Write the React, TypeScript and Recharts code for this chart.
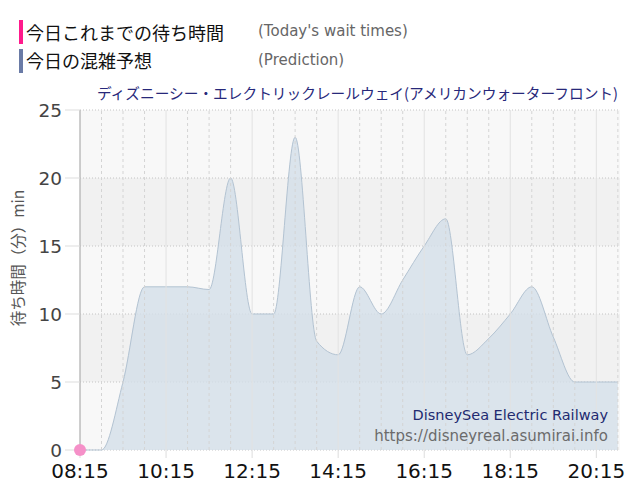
import React from "react";
import {
  ComposedChart,
  Area,
  Line,
  XAxis,
  YAxis,
  CartesianGrid,
  ReferenceLine,
} from "recharts";

// ---- data ----
const slotTimes = [
  "08:15", "08:45", "09:15", "09:45", "10:15", "10:45", "11:15", "11:45",
  "12:15", "12:45", "13:15", "13:45", "14:15", "14:45", "15:15", "15:45",
  "16:15", "16:45", "17:15", "17:45", "18:15", "18:45", "19:15", "19:45",
  "20:15", "20:45",
];
const predictedWaits = [
  0, 0, 5, 12, 12, 12, 11.8, 20, 10, 10, 23, 8, 7, 12, 10, 12.5, 15, 17, 7,
  8.2, 10, 12, 8.3, 5, 5, 5,
];
const actualTimes = ["08:15"];
const actualWaits = [0];
const xTickLabels = ["08:15", "10:15", "12:15", "14:15", "16:15", "18:15", "20:15"];
const yTicks = [0, 5, 10, 15, 20, 25];
const axisStart = "08:15";
const axisEnd = "20:48";

const toMin = (s: string) => {
  const [h, m] = s.split(":").map(Number);
  return h * 60 + m;
};
const fmt = (v: number) => {
  const h = Math.floor(v / 60);
  const m = v % 60;
  return `${String(h).padStart(2, "0")}:${String(m).padStart(2, "0")}`;
};

const chartData = slotTimes.map((t, i) => {
  const ai = actualTimes.indexOf(t);
  return {
    t: toMin(t),
    pred: predictedWaits[i],
    actual: ai >= 0 ? actualWaits[ai] : null,
  };
});

const xTicks = xTickLabels.map(toMin);
const gridTimes = slotTimes.map(toMin).filter((m) => !xTicks.includes(m));

const latin = '"DejaVu Sans", Verdana, sans-serif';
const jp = '"Noto Sans CJK JP", "DejaVu Sans", sans-serif';

export default function App() {
  return (
    <div
      style={{
        position: "absolute",
        left: 0,
        top: 0,
        width: 640,
        height: 500,
        background: "#fff",
        overflow: "hidden",
      }}
    >
      {/* legend */}
      <div style={{ position: "absolute", left: 19, top: 20, width: 4, height: 24, background: "#ff1a8c" }} />
      <div style={{ position: "absolute", left: 26, top: 20, height: 24, lineHeight: "24px", fontFamily: jp, fontSize: 18, color: "#111", whiteSpace: "nowrap" }}>
        今日これまでの待ち時間
      </div>
      <div style={{ position: "absolute", left: 258, top: 21, height: 20, lineHeight: "20px", fontFamily: latin, fontSize: 15, color: "#666", whiteSpace: "nowrap" }}>
        (Today's wait times)
      </div>
      <div style={{ position: "absolute", left: 19, top: 49, width: 4, height: 24, background: "#6a7ba6" }} />
      <div style={{ position: "absolute", left: 26, top: 48, height: 24, lineHeight: "24px", fontFamily: jp, fontSize: 18, color: "#111", whiteSpace: "nowrap" }}>
        今日の混雑予想
      </div>
      <div style={{ position: "absolute", left: 258, top: 50, height: 20, lineHeight: "20px", fontFamily: latin, fontSize: 15, color: "#666", whiteSpace: "nowrap" }}>
        (Prediction)
      </div>
      {/* title */}
      <div style={{ position: "absolute", right: 22, top: 83, height: 20, lineHeight: "20px", fontFamily: jp, fontSize: 14.7, color: "#27287a", whiteSpace: "nowrap" }}>
        ディズニーシー・エレクトリックレールウェイ(アメリカンウォーターフロント)
      </div>
      {/* y label */}
      <div
        style={{
          position: "absolute",
          left: 17,
          top: 258,
          transform: "translate(-50%, -50%) rotate(-90deg)",
          fontFamily: jp,
          fontSize: 15.5,
          color: "#555",
          whiteSpace: "nowrap",
          lineHeight: "20px",
        }}
      >
        待ち時間（分）min
      </div>

      <ComposedChart
        width={640}
        height={500}
        data={chartData}
        margin={{ top: 110, right: 20, left: 0, bottom: 0 }}
        style={{ position: "absolute", left: 0, top: 0 }}
      >
        <CartesianGrid
          vertical={false}
          stroke="#c4c4c4"
          strokeDasharray="1 2"
          horizontalFill={["#f8f8f8", "#f1f1f1"]}
          fillOpacity={1}
        />
        <XAxis
          dataKey="t"
          type="number"
          domain={[toMin(axisStart), toMin(axisEnd)]}
          ticks={xTicks}
          tickFormatter={fmt}
          height={50}
          axisLine={false}
          tickLine={{ stroke: "#dddddd" }}
          tickSize={8}
          tickMargin={6}
          tick={{ fill: "#111", fontSize: 20, fontFamily: latin }}
          interval={0}
        />
        <YAxis
          type="number"
          domain={[0, 25]}
          ticks={yTicks}
          width={80}
          axisLine={{ stroke: "#aaaaaa" }}
          tickLine={{ stroke: "#dddddd" }}
          tickSize={15}
          tickMargin={3}
          tick={{ fill: "#444", fontSize: 18.5, fontFamily: latin }}
          interval={0}
        />
        <Area
          type="monotone"
          dataKey="pred"
          stroke="#b3c3d2"
          strokeWidth={1}
          fill="#d3dee8"
          fillOpacity={0.8}
          isAnimationActive={false}
          dot={false}
          activeDot={false}
        />
        {gridTimes.map((m) => (
          <ReferenceLine key={"g" + m} x={m} stroke="#d4d4d4" strokeDasharray="3 3" />
        ))}
        {xTicks.map((m) => (
          <ReferenceLine key={"t" + m} x={m} stroke="#e2e2e2" />
        ))}
        <Line
          type="linear"
          dataKey="actual"
          stroke="#f48fc8"
          strokeWidth={2}
          connectNulls={false}
          isAnimationActive={false}
          dot={{ r: 6, fill: "#f590c8", stroke: "none" }}
          activeDot={false}
        />
      </ComposedChart>

      {/* watermark */}
      <div style={{ position: "absolute", right: 32, top: 406, height: 18, lineHeight: "18px", fontFamily: latin, fontSize: 14.5, color: "#222a70", whiteSpace: "nowrap" }}>
        DisneySea Electric Railway
      </div>
      <div style={{ position: "absolute", right: 32, top: 427, height: 18, lineHeight: "18px", fontFamily: latin, fontSize: 15, color: "#6b6b6b", whiteSpace: "nowrap" }}>
        https://disneyreal.asumirai.info
      </div>
    </div>
  );
}
